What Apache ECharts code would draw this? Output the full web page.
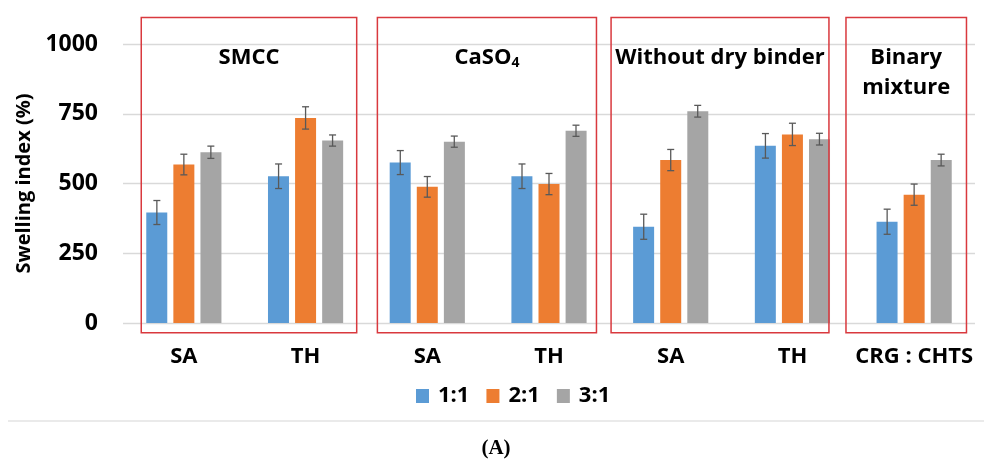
<!DOCTYPE html>
<html>
<head>
<meta charset="utf-8">
<script src="https://cdn.jsdelivr.net/npm/echarts@6/dist/echarts.min.js"></script>
<style>
  html, body { margin: 0; padding: 0; background: #fff; }
  #chart { width: 992px; height: 468px; }
</style>
</head>
<body>
<div id="chart"></div>
<script>
const categories = ['SA', 'TH', 'SA', 'TH', 'SA', 'TH', 'CRG : CHTS']
const ratioNames = ['1:1', '2:1', '3:1']
const ratio11 = [396, 526, 575, 526, 345, 635, 363]
const ratio21 = [568, 735, 488, 498, 584, 676, 460]
const ratio31 = [612, 654, 650, 689, 759, 659, 584]
const err11 = [43, 44, 43, 44, 45, 44, 45]
const err21 = [37, 40, 37, 38, 38, 40, 38]
const err31 = [22, 20, 20, 20, 21, 21, 21]
const panelTitles = ['SMCC', 'CaSO{sub|4}', 'Without dry binder', 'Binary\nmixture']

// frames round the groups, in category units (category i sits at i)
const panelSpans = [[-0.35, 1.42], [1.59, 3.39], [3.51, 5.30], [5.44, 6.43]]

const colors = ['#5b9bd5', '#ed7d31', '#a5a5a5']
const font = 'Open Sans'
const barWidth = 21
const barStep = 27

const chart = echarts.init(document.getElementById('chart'))

function errorSeries(values, errs, k) {
  return {
    type: 'custom',
    name: ratioNames[k] + ' err',
    z: 5,
    silent: true,
    encode: { x: 0, y: [1, 2] },
    data: values.map((v, i) => [i, v - errs[i], v + errs[i]]),
    renderItem(params, api) {
      const lo = api.coord([api.value(0), api.value(1)])
      const hi = api.coord([api.value(0), api.value(2)])
      const x = lo[0] + (k - 1) * barStep
      const style = { stroke: '#595959', lineWidth: 1.3 }
      return {
        type: 'group',
        children: [
          { type: 'line', shape: { x1: x, y1: lo[1], x2: x, y2: hi[1] }, style },
          { type: 'line', shape: { x1: x - 3.5, y1: lo[1], x2: x + 3.5, y2: lo[1] }, style },
          { type: 'line', shape: { x1: x - 3.5, y1: hi[1], x2: x + 3.5, y2: hi[1] }, style }
        ]
      }
    }
  }
}

function panelX(api, s) {
  const i = Math.round(s)
  const band = api.size([1, 0])[0]
  return api.coord([i, 0])[0] + (s - i) * band
}

const panelSeries = {
  type: 'custom',
  name: 'panels',
  z: 6,
  silent: true,
  clip: false,
  data: panelSpans.map((s, i) => [s[0], s[1], i]),
  renderItem(params, api) {
    const x1 = panelX(api, api.value(0))
    const x2 = panelX(api, api.value(1))
    const y1 = api.coord([0, 1095])[1]
    const y2 = api.coord([0, -35])[1]
    return {
      type: 'group',
      children: [
        {
          type: 'rect',
          shape: { x: x1, y: y1, width: x2 - x1, height: y2 - y1 },
          style: { fill: 'none', stroke: '#d9393e', lineWidth: 1.5 }
        },
        {
          type: 'text',
          x: (x1 + x2) / 2,
          y: y1 + 25,
          style: {
            text: panelTitles[api.value(2)],
            fill: '#000',
            fontFamily: font,
            fontWeight: 'bold',
            fontSize: 22,
            lineHeight: 30,
            align: 'center',
            verticalAlign: 'top',
            rich: {
              sub: { fontSize: 14, fontWeight: 'bold', fontFamily: font, padding: [12, 0, 0, 0] }
            }
          }
        }
      ]
    }
  }
}

chart.setOption({
  animation: false,
  textStyle: { fontFamily: font },
  grid: { left: 123, right: 17, top: 44, bottom: 145, outerBoundsMode: 'none' },
  legend: {
    data: ratioNames,
    left: 411,
    top: 380,
    icon: 'rect',
    itemWidth: 13,
    itemHeight: 14,
    itemGap: 17,
    textStyle: { fontSize: 22, fontWeight: 'bold', color: '#000', fontFamily: font, padding: [0, 0, 0, 4] }
  },
  xAxis: {
    type: 'category',
    data: categories,
    axisLine: { show: false },
    axisTick: { show: false },
    axisLabel: { fontSize: 22, fontWeight: 'bold', color: '#000', margin: 23, interval: 0 }
  },
  yAxis: {
    type: 'value',
    min: 0,
    max: 1000,
    interval: 250,
    name: 'Swelling index (%)',
    nameLocation: 'middle',
    nameGap: 72,
    nameTextStyle: { fontSize: 20, fontWeight: 'bold', color: '#000' },
    axisLine: { show: false },
    axisTick: { show: false },
    axisLabel: { fontSize: 23, fontWeight: 'bold', color: '#000', margin: 25, formatter: v => String(v) },
    splitLine: { lineStyle: { color: '#d9d9d9', width: 1.3 } }
  },
  graphic: [
    { type: 'line', shape: { x1: 8, y1: 421, x2: 984, y2: 421 }, style: { stroke: '#e3e3e3', lineWidth: 1.5 } },
    {
      type: 'text', x: 496, y: 449,
      style: { text: '(A)', font: 'bold 21px "Liberation Serif"', fill: '#000', align: 'center', verticalAlign: 'middle' }
    }
  ],
  series: [
    { type: 'bar', name: ratioNames[0], data: ratio11, barWidth, barGap: '29%', itemStyle: { color: colors[0] } },
    { type: 'bar', name: ratioNames[1], data: ratio21, barWidth, barGap: '29%', itemStyle: { color: colors[1] } },
    { type: 'bar', name: ratioNames[2], data: ratio31, barWidth, barGap: '29%', itemStyle: { color: colors[2] } },
    errorSeries(ratio11, err11, 0),
    errorSeries(ratio21, err21, 1),
    errorSeries(ratio31, err31, 2),
    panelSeries
  ]
})
</script>
</body>
</html>
